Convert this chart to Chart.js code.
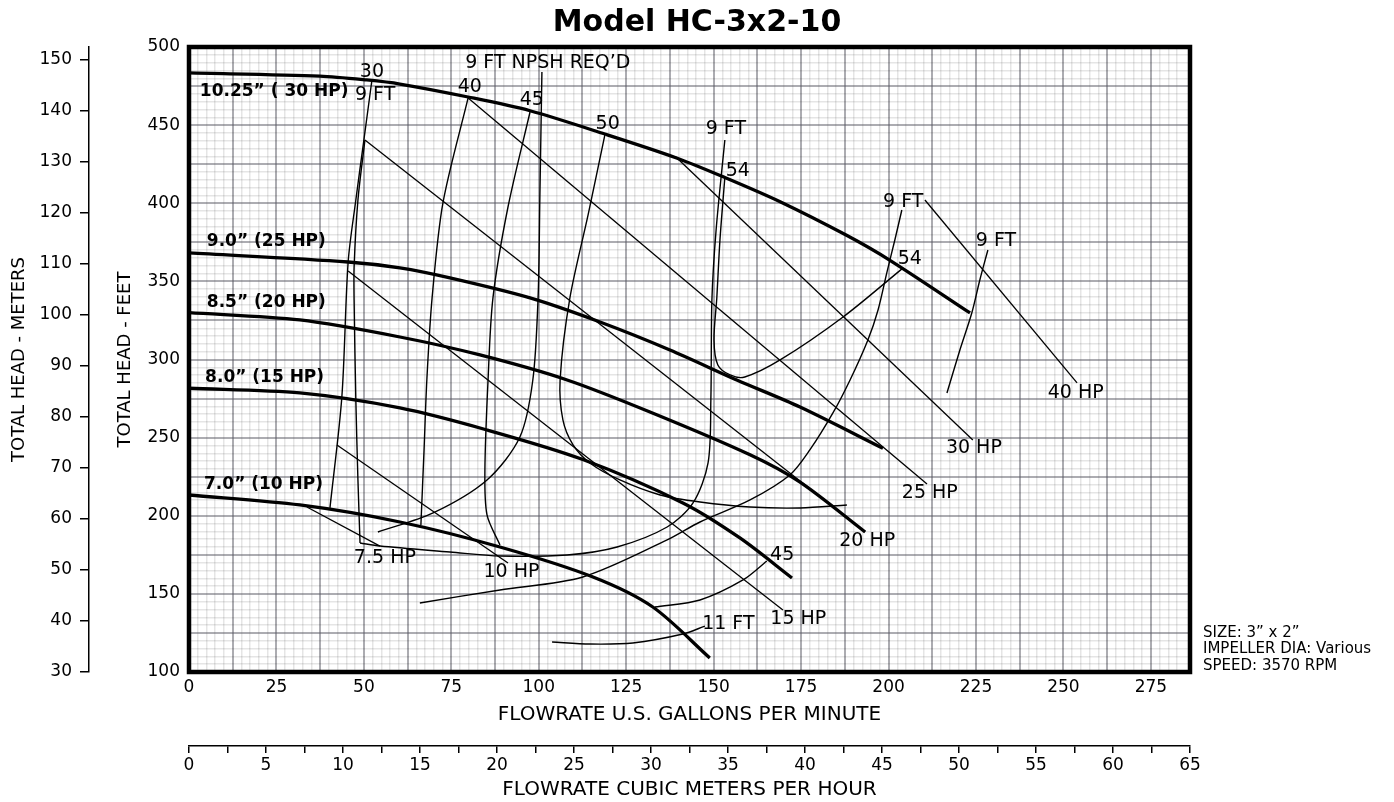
<!DOCTYPE html>
<html>
<head>
<meta charset="utf-8">
<title>Model HC-3x2-10</title>
<script src="https://cdn.jsdelivr.net/npm/chart.js@4/dist/chart.umd.min.js"></script>
<style>
  html, body { margin: 0; padding: 0; background: #fff; }
  #wrap { width: 1394px; height: 802px; position: relative; }
</style>
</head>
<body>
<div id="wrap"><canvas id="pumpChart"></canvas></div>
<script>
// Conversions d'unités
const GPM_PER_M3H = 4.4029;
const FT_PER_M = 3.28084;

// Graduations affichées
const gpmTicks = [0, 25, 50, 75, 100, 125, 150, 175, 200, 225, 250, 275];
const m3hTicks = [0, 5, 10, 15, 20, 25, 30, 35, 40, 45, 50, 55, 60, 65];
const ftTicks = [100, 150, 200, 250, 300, 350, 400, 450, 500];
const mTicks = [30, 40, 50, 60, 70, 80, 90, 100, 110, 120, 130, 140, 150];

// Courbes de hauteur par diamètre de roue : [gpm, pieds]
const head1025 = [[0, 483.4], [37.4, 481.4], [50.8, 478.9], [60.3, 476.3], [79.8, 468.0], [97.5, 459.2], [118.9, 444.3], [139.4, 429.0], [153.2, 416.5], [169.0, 401.0], [188.0, 379.5], [200.4, 363.5], [223.3, 329.8]];
const head90 = [[0, 368.2], [45.5, 362.4], [60.3, 358.6], [74.6, 352.2], [97.5, 339.4], [117.5, 324.0], [137.5, 306.1], [156.6, 286.9], [174.7, 269.6], [198.4, 243.2]];
const head85 = [[0, 330.0], [31.7, 325.3], [60.3, 314.4], [83.2, 302.9], [108.1, 286.9], [131.8, 266.4], [160.4, 239.0], [174.7, 221.5], [193.3, 189.6]];
const head80 = [[0, 281.6], [31.7, 278.6], [60.3, 269.0], [85.2, 254.9], [112.6, 236.0], [141.2, 208.2], [157.5, 185.8], [172.4, 160.2]];
const head70 = [[0, 213.3], [31.7, 206.9], [60.3, 196.0], [88.9, 180.0], [115.5, 160.8], [132.6, 141.6], [148.9, 109.0]];

// Lignes de puissance
const hp7_5 = [[33.7, 205.6], [54.6, 180.6]];
const hp10 = [[42.3, 245.3], [91.2, 169.8]];
const hp15 = [[45.5, 356.6], [169.8, 139.7]];
const hp20 = [[50.3, 440.5], [193.3, 189.6]];
const hp25 = [[79.8, 467.4], [211.0, 220.3]];
const hp30 = [[139.2, 429.6], [224.1, 248.5]];
const hp40 = [[210.4, 402.1], [253.9, 285.0]];

// Rendements (%)
const eff30 = [[52.3, 478.9], [50.0, 440.5], [47.7, 402.1], [45.5, 362.4], [43.7, 276.0], [40.3, 205.0]];
const eff40 = [[79.8, 467.4], [72.6, 400.2], [69.5, 339.4], [68.0, 286.9], [67.2, 242.1], [66.3, 194.1]];
const eff45 = [[97.5, 458.4], [91.2, 397.6], [86.9, 339.4], [85.5, 286.9], [84.6, 229.3], [85.2, 200.5], [88.9, 181.3]];
const eff50 = [[118.9, 443.7], [114.1, 392.5], [108.9, 339.4], [106.1, 286.9], [106.9, 261.3], [109.8, 245.3], [114.6, 233.8], [123.2, 222.9], [134.7, 213.3], [146.1, 208.8], [160.4, 205.6], [174.7, 205.0], [188.1, 206.9]];
const eff54 = [[153.2, 416.5], [151.8, 376.5], [150.9, 339.4], [150.1, 312.5], [151.2, 296.5], [154.7, 290.1], [158.9, 288.8], [169.0, 299.7], [187.0, 327.2], [204.1, 358.5]];
const eff45low = [[133.2, 141.6], [146.1, 146.1], [158.4, 158.9], [165.2, 171.0]];

// NPSH requis
const npsh9Left = [[50.3, 440.5], [48.3, 402.1], [47.2, 359.2], [47.2, 338.1], [47.7, 274.1], [48.3, 222.9], [48.9, 182.6]];
const npsh9Loop = [[48.9, 182.6], [54.6, 180.6], [74.6, 176.8], [88.9, 174.2], [108.1, 174.9], [122.4, 180.0], [136.7, 192.8], [144.1, 208.2], [148.4, 233.8], [149.2, 274.1], [149.5, 338.1], [150.7, 382.9], [153.2, 440.5]];
const npshReqd = [[100.9, 484.0], [100.3, 402.1], [99.8, 339.4], [98.3, 286.9], [94.6, 250.4], [85.2, 222.9], [69.8, 201.8], [54.0, 189.6]];
const npsh9Arc = [[203.8, 395.7], [201.8, 376.5], [199.5, 355.4], [197.0, 331.7], [194.1, 312.5], [189.0, 286.9], [184.1, 265.8], [177.5, 242.1], [171.8, 226.1], [160.4, 210.1], [146.1, 196.0], [136.7, 184.5], [112.6, 160.8], [88.9, 152.5], [66.0, 144.2]];
const npsh9Right = [[228.4, 370.1], [226.1, 350.9], [223.8, 329.8], [220.4, 306.1], [216.7, 278.6]];
const npsh11 = [[103.8, 119.2], [114.6, 117.9], [126.9, 118.6], [141.2, 124.3], [147.5, 129.4]];

// Textes posés sur le graphique (coordonnées gpm / pieds)
const curveLabels = [
    { text: '10.25” ( 30 HP)', gpm: 3.1, ft: 471.2, bold: true },
    { text: '9.0” (25 HP)', gpm: 5.1, ft: 375.2, bold: true },
    { text: '8.5” (20 HP)', gpm: 5.1, ft: 336.2, bold: true },
    { text: '8.0” (15 HP)', gpm: 4.6, ft: 288.2, bold: true },
    { text: '7.0” (10 HP)', gpm: 4.3, ft: 220.0, bold: true },
    { text: '30', gpm: 52.3, ft: 484.2 },
    { text: '9 FT', gpm: 53.2, ft: 469.1 },
    { text: '9 FT NPSH REQ’D', gpm: 102.6, ft: 490.0 },
    { text: '40', gpm: 80.3, ft: 474.2 },
    { text: '45', gpm: 98.0, ft: 466.1 },
    { text: '50', gpm: 119.7, ft: 450.7 },
    { text: '9 FT', gpm: 153.5, ft: 447.3 },
    { text: '54', gpm: 156.9, ft: 420.6 },
    { text: '9 FT', gpm: 204.2, ft: 401.0 },
    { text: '54', gpm: 206.1, ft: 364.1 },
    { text: '9 FT', gpm: 230.7, ft: 376.0 },
    { text: '40 HP', gpm: 253.5, ft: 278.8 },
    { text: '30 HP', gpm: 224.4, ft: 243.6 },
    { text: '25 HP', gpm: 211.8, ft: 214.4 },
    { text: '20 HP', gpm: 193.9, ft: 184.0 },
    { text: '45', gpm: 169.6, ft: 174.9 },
    { text: '15 HP', gpm: 174.2, ft: 133.7 },
    { text: '11 FT', gpm: 154.2, ft: 130.7 },
    { text: '10 HP', gpm: 92.2, ft: 164.2 },
    { text: '7.5 HP', gpm: 56.0, ft: 172.8 }
];

const pumpInfo = ['SIZE: 3” x 2”', 'IMPELLER DIA: Various', 'SPEED: 3570 RPM'];

Chart.defaults.font.family = "'DejaVu Sans', sans-serif";
Chart.defaults.color = '#000';

const gpmMax = 65 * GPM_PER_M3H;
const mMax = 500 / FT_PER_M;

function isMultiple(v, step) {
    const r = v / step;
    return Math.abs(r - Math.round(r)) < 1e-6;
}

// quadrillage : trait fort tous les "major", fin sinon
function gridStyle(major) {
    return {
        color: c => (c.tick && isMultiple(c.tick.value, major)) ? 'rgba(90,90,100,0.5)' : 'rgba(0,0,0,0.1)',
        lineWidth: c => (c.tick && isMultiple(c.tick.value, major)) ? 2 : 1.5,
        drawTicks: false
    };
}

function serie(points, width, tension) {
    return {
        data: points.map(p => ({ x: p[0], y: p[1] })),
        showLine: true,
        borderColor: '#000',
        borderWidth: width,
        pointRadius: 0,
        pointHoverRadius: 0,
        tension: tension,
        fill: false,
        borderJoinStyle: 'round'
    };
}

const headCurves = [head1025, head90, head85, head80, head70];
const hpLines = [hp7_5, hp10, hp15, hp20, hp25, hp30, hp40];
const thinCurves = [eff30, eff40, eff45, eff50, eff54, eff45low, npsh9Left, npsh9Loop, npshReqd, npsh9Arc, npsh9Right, npsh11];

const annotationsPlugin = {
    id: 'annotations',
    afterDatasetsDraw(chart) {
        const { ctx, chartArea, scales } = chart;
        ctx.save();
        // cadre épais autour de la zone de tracé
        ctx.strokeStyle = '#000';
        ctx.lineWidth = 4.5;
        ctx.strokeRect(chartArea.left, chartArea.top, chartArea.right - chartArea.left, chartArea.bottom - chartArea.top);

        ctx.fillStyle = '#000';
        ctx.textBaseline = 'middle';
        curveLabels.forEach(l => {
            ctx.font = l.bold ? "bold 17px 'DejaVu Sans'" : "19px 'DejaVu Sans'";
            ctx.textAlign = l.bold ? 'left' : 'center';
            ctx.fillText(l.text, scales.x.getPixelForValue(l.gpm), scales.y.getPixelForValue(l.ft));
        });

        ctx.font = "15px 'DejaVu Sans'";
        ctx.textAlign = 'left';
        pumpInfo.forEach((t, i) => {
            ctx.fillText(t, chartArea.right + 13, chartArea.bottom - 39 + i * 16.5);
        });
        ctx.restore();
    }
};

const ctxPump = document.getElementById('pumpChart').getContext('2d');
const pumpChart = new Chart(ctxPump, {
    type: 'scatter',
    data: {
        datasets: [
            ...headCurves.map(c => serie(c, 3.3, 0.3)),
            ...hpLines.map(c => serie(c, 1.3, 0)),
            ...thinCurves.map(c => serie(c, 1.4, 0.3))
        ]
    },
    options: {
        animation: false,
        responsive: true,
        maintainAspectRatio: false,
        layout: { padding: 0 },
        plugins: {
            legend: { display: false },
            tooltip: { enabled: false },
            title: {
                display: true,
                text: 'Model HC-3x2-10',
                color: '#000',
                font: { size: 30, weight: 'bold' },
                padding: { top: 5, bottom: 6 }
            }
        },
        scales: {
            x: {
                type: 'linear',
                position: 'bottom',
                weight: 0,
                min: 0,
                max: gpmMax,
                afterFit: s => { s.height = 74; },
                border: { display: false },
                grid: gridStyle(12.5),
                ticks: {
                    stepSize: 2.5,
                    autoSkip: false,
                    maxRotation: 0,
                    minRotation: 0,
                    padding: 5,
                    font: { size: 17 },
                    callback: v => gpmTicks.includes(v) ? String(v) : ''
                },
                title: {
                    display: true,
                    text: 'FLOWRATE U.S. GALLONS PER MINUTE',
                    font: { size: 20 },
                    padding: { top: 0, bottom: 19 }
                }
            },
            xm: {
                type: 'linear',
                position: 'bottom',
                weight: 1,
                min: 0,
                max: 65,
                afterFit: s => { s.height = 56; },
                border: { display: true, color: '#000', width: 1.5 },
                grid: { drawOnChartArea: false, drawTicks: true, tickLength: 7, color: '#000', lineWidth: 1.5 },
                ticks: {
                    stepSize: 2.5,
                    autoSkip: false,
                    maxRotation: 0,
                    minRotation: 0,
                    padding: 2,
                    font: { size: 17 },
                    callback: v => m3hTicks.includes(v) ? String(v) : ''
                },
                title: {
                    display: true,
                    text: 'FLOWRATE CUBIC METERS PER HOUR',
                    font: { size: 20 },
                    padding: { top: 0, bottom: 0 }
                }
            },
            y: {
                type: 'linear',
                position: 'left',
                weight: 0,
                min: 100,
                max: 500,
                afterFit: s => { s.width = 100; },
                border: { display: false },
                grid: gridStyle(25),
                ticks: {
                    stepSize: 5,
                    autoSkip: false,
                    padding: 9,
                    font: { size: 17 },
                    callback: v => ftTicks.includes(v) ? String(v) : ''
                },
                title: {
                    display: true,
                    text: 'TOTAL HEAD - FEET',
                    font: { size: 18 },
                    padding: { top: 26, bottom: 0 }
                }
            },
            ym: {
                type: 'linear',
                position: 'left',
                weight: 1,
                min: 30,
                max: mMax,
                afterFit: s => { s.width = 89; },
                border: { display: true, color: '#000', width: 1.5 },
                grid: { drawOnChartArea: false, drawTicks: true, tickLength: 9, color: '#000', lineWidth: 1.5 },
                ticks: {
                    stepSize: 10,
                    includeBounds: false,
                    autoSkip: false,
                    padding: 8,
                    font: { size: 17 },
                    callback: v => mTicks.includes(v) ? String(v) : ''
                },
                title: {
                    display: true,
                    text: 'TOTAL HEAD - METERS',
                    font: { size: 18 },
                    padding: { top: 9, bottom: 0 }
                }
            },
            // marge droite réservée aux infos pompe
            side: {
                type: 'linear',
                position: 'right',
                min: 0,
                max: 1,
                afterFit: s => { s.width = 204; },
                border: { display: false },
                grid: { display: false },
                ticks: { display: false }
            }
        }
    },
    plugins: [annotationsPlugin]
});
</script>
</body>
</html>
